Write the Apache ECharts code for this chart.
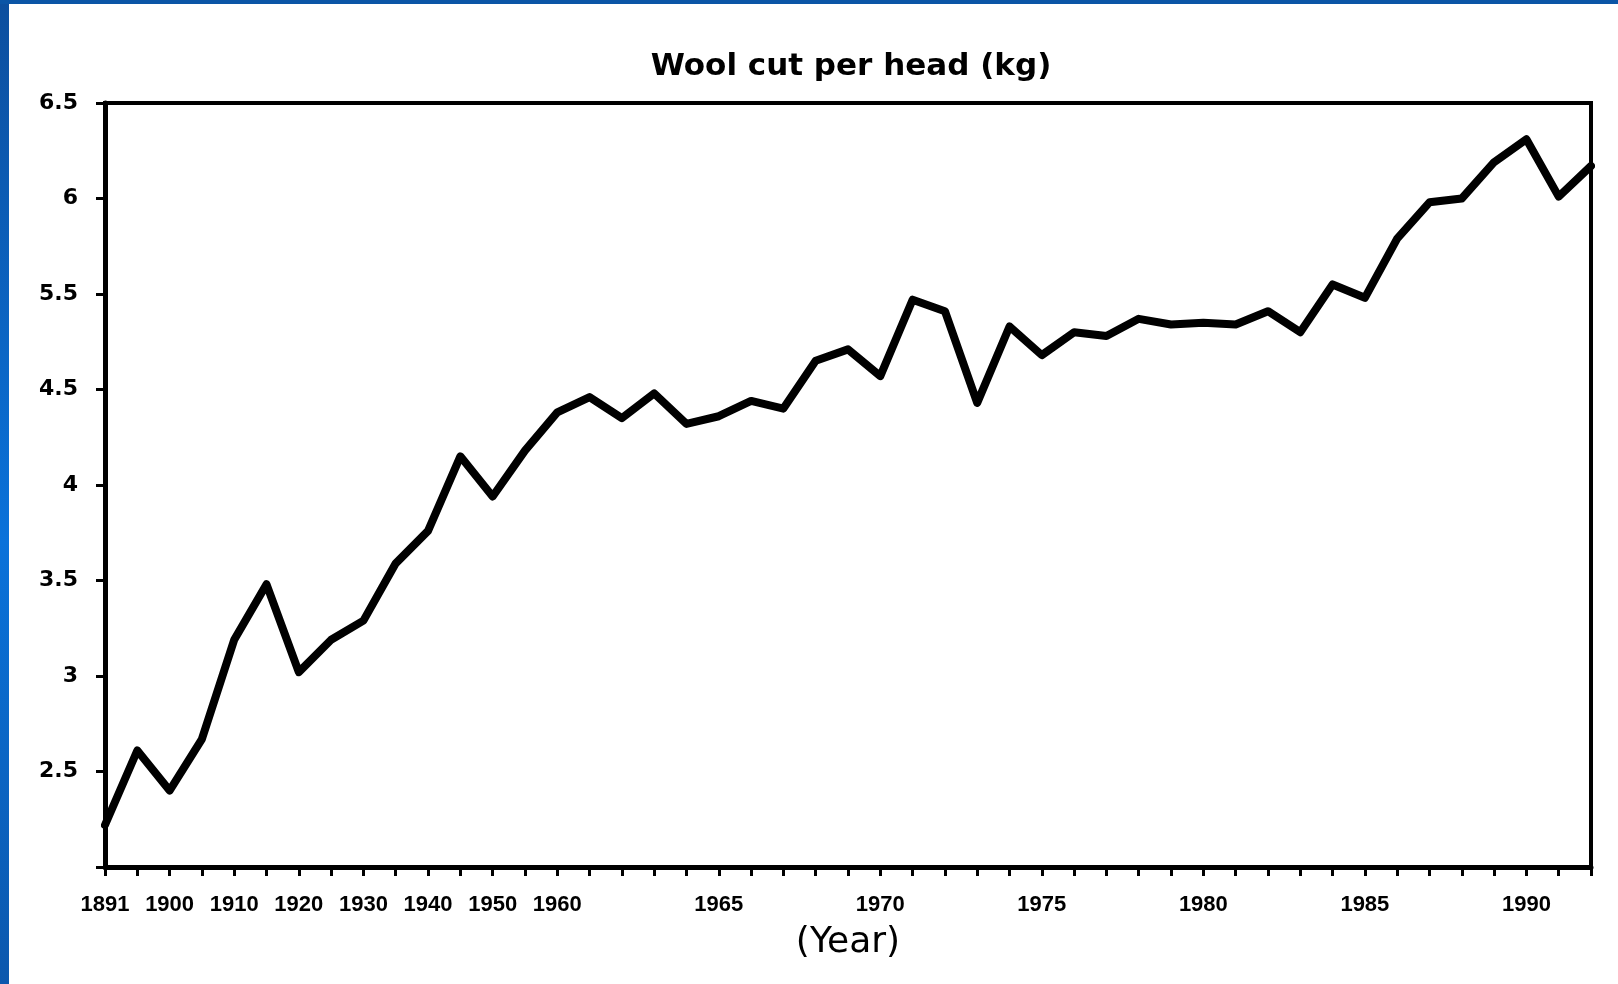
<!DOCTYPE html>
<html>
<head>
<meta charset="utf-8">
<script src="https://cdn.jsdelivr.net/npm/echarts@6/dist/echarts.min.js"></script>
<style>
  html, body { margin: 0; padding: 0; background: #ffffff; }
  #chart { width: 1618px; height: 984px; }
</style>
</head>
<body>
<div id="chart"></div>
<script>
// Categories (irregular spacing in the original: 1891, then 5-yearly to 1960, then yearly)
const years = ['1891','1895','1900','1905','1910','1915','1920','1925','1930','1935','1940','1945','1950','1955','1960',
  '1961','1962','1963','1964','1965','1966','1967','1968','1969','1970','1971','1972','1973','1974','1975','1976',
  '1977','1978','1979','1980','1981','1982','1983','1984','1985','1986','1987','1988','1989','1990','1991','1992'];

const woolCut = [2.22, 2.61, 2.40, 2.67, 3.19, 3.48, 3.02, 3.19, 3.29, 3.59, 3.76, 4.15, 3.94, 4.18, 4.38,
  4.46, 4.35, 4.48, 4.32, 4.36, 4.44, 4.40, 4.65, 4.71, 4.57, 4.97, 4.91, 4.43, 4.83, 4.68, 4.80,
  4.78, 4.87, 4.84, 4.85, 4.84, 4.91, 4.80, 5.05, 4.98, 5.29, 5.48, 5.50, 5.69, 5.81, 5.51, 5.67];

// Year labels printed under the axis
const xLabelYears = ['1891','1900','1910','1920','1930','1940','1950','1960','1965','1970','1975','1980','1985','1990'];

// Y tick labels exactly as printed in the original (bottom to top, one per 0.5 step from 2)
const yTickLabels = ['', '2.5', '3', '3.5', '4', '4.5', '5.5', '6', '6.5'];

const chart = echarts.init(document.getElementById('chart'), null, { renderer: 'canvas' });

const option = {
  backgroundColor: '#ffffff',
  animation: false,
  title: {
    text: 'Wool cut per head (kg)',
    left: 851,
    textAlign: 'center',
    top: 51,
    padding: 0,
    textStyle: {
      fontFamily: 'DejaVu Sans',
      fontWeight: 'bold',
      fontSize: 31,
      color: '#000'
    }
  },
  graphic: [
    {
      type: 'rect',
      shape: { x: 0, y: 0, width: 9, height: 984 },
      style: {
        fill: new echarts.graphic.LinearGradient(0, 0, 0, 1, [
          { offset: 0, color: '#0d4f9e' },
          { offset: 0.55, color: '#0a72da' },
          { offset: 1, color: '#0c58ad' }
        ])
      },
      z: 100
    },
    {
      type: 'rect',
      shape: { x: 0, y: 0, width: 1618, height: 4 },
      style: { fill: '#0b55a6' },
      z: 100
    }
  ],
  grid: {
    left: 105,
    right: 27,
    top: 103,
    bottom: 117,
    show: true,
    borderColor: '#000',
    borderWidth: 4,
    backgroundColor: '#ffffff',
    outerBoundsMode: 'none'
  },
  xAxis: {
    type: 'category',
    data: years,
    boundaryGap: false,
    name: '(Year)',
    nameLocation: 'middle',
    nameGap: 58,
    nameTextStyle: {
      fontFamily: 'DejaVu Sans',
      fontSize: 36,
      color: '#000'
    },
    axisLine: { show: true, lineStyle: { color: '#000', width: 5 } },
    axisTick: {
      show: true,
      interval: 0,
      inside: false,
      length: 9,
      lineStyle: { color: '#000', width: 3 }
    },
    axisLabel: {
      interval: function (index, value) { return xLabelYears.indexOf(value) !== -1; },
      margin: 27,
      fontFamily: 'Liberation Sans',
      fontWeight: 'bold',
      fontSize: 22,
      color: '#000',
      hideOverlap: false
    },
    splitLine: { show: false }
  },
  yAxis: {
    type: 'value',
    min: 2,
    max: 6,
    interval: 0.5,
    axisLine: { show: true, lineStyle: { color: '#000', width: 5 } },
    axisTick: {
      show: true,
      inside: false,
      length: 9,
      lineStyle: { color: '#000', width: 3 }
    },
    axisLabel: {
      margin: 27,
      fontFamily: 'DejaVu Sans',
      fontWeight: 'bold',
      fontSize: 22,
      color: '#000',
      formatter: function (v) {
        const i = Math.round((v - 2) / 0.5);
        return yTickLabels[i] !== undefined ? yTickLabels[i] : '';
      }
    },
    splitLine: { show: false }
  },
  series: [
    {
      type: 'line',
      data: woolCut,
      symbol: 'none',
      smooth: false,
      clip: false,
      lineStyle: { color: '#000', width: 8, join: 'round', cap: 'round' }
    }
  ]
};

chart.setOption(option);
</script>
</body>
</html>
